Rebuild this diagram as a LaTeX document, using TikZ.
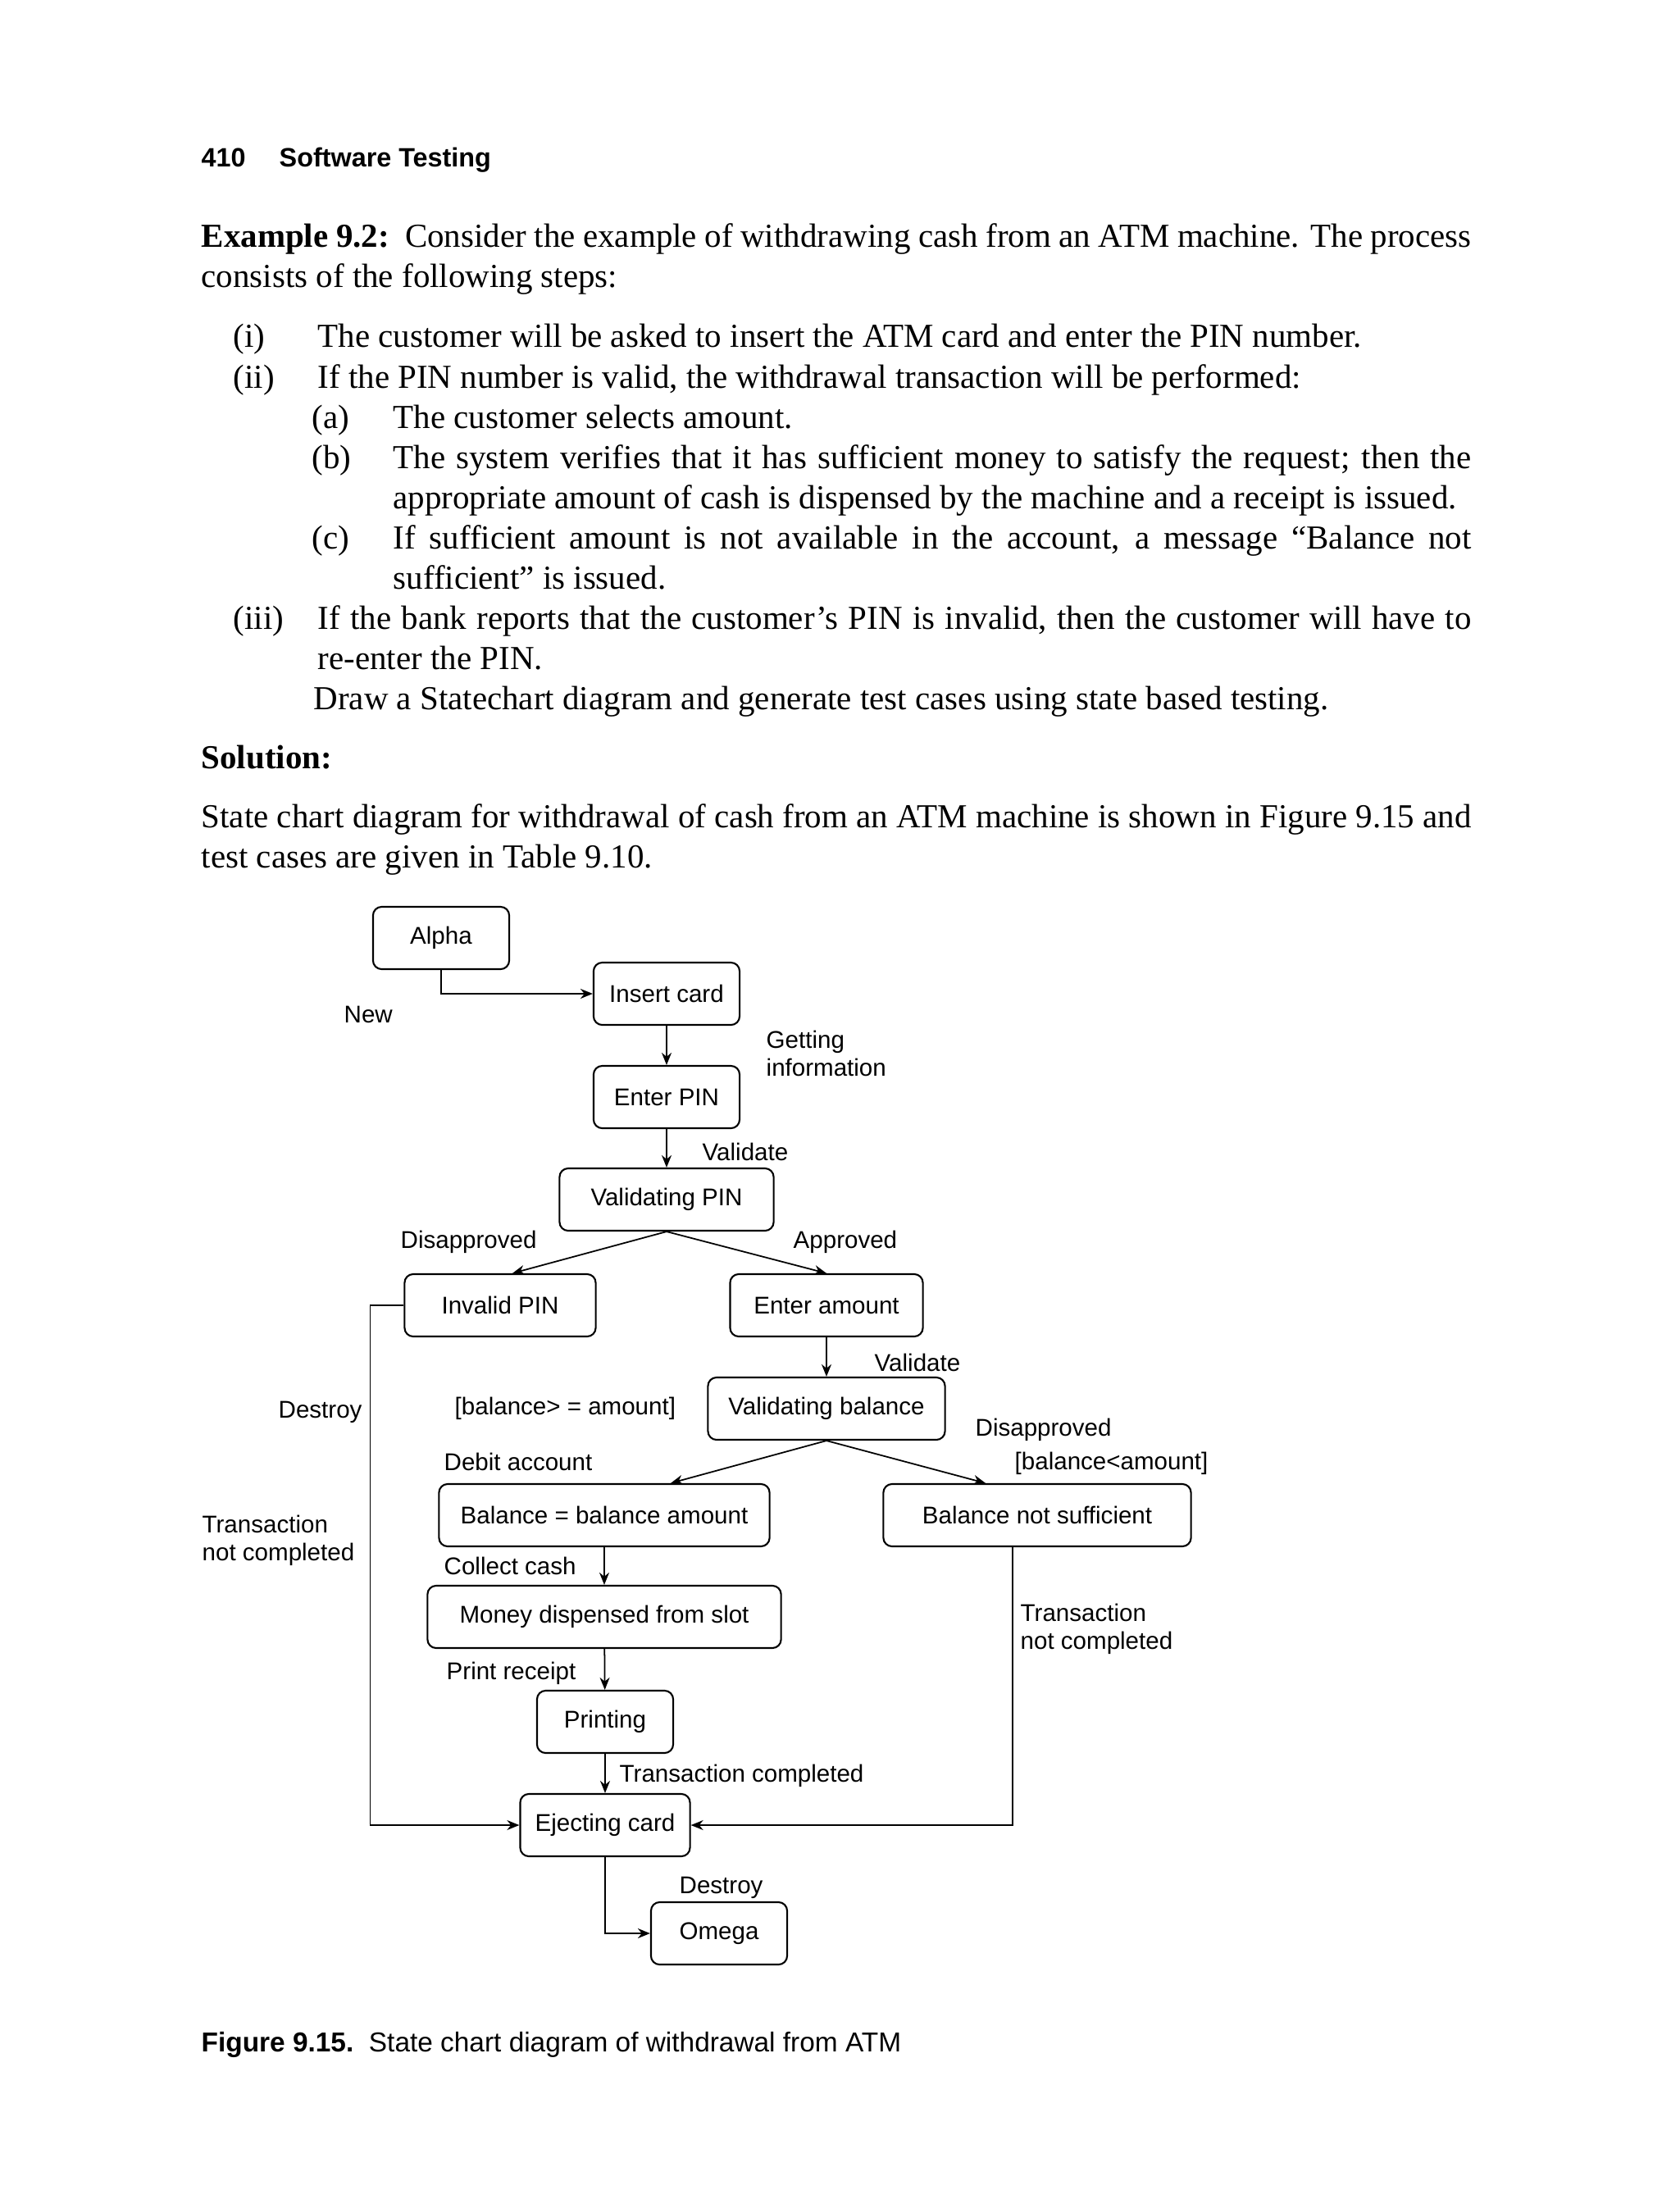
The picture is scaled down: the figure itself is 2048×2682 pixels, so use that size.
\documentclass[tikz,border=0pt]{standalone}
\usepackage{fontspec}
\setmainfont{Liberation Serif}
\setsansfont{Liberation Sans}
\usetikzlibrary{arrows.meta,calc}
\tikzset{
  every node/.style = {inner sep=0pt},
  estado/.style     = {draw=black, rounded corners=3pt, line width=0.6pt,
                       minimum height=7.6mm, inner sep=2pt,
                       font=\sffamily\fontsize{8.4}{9.7}\selectfont},
  flecha/.style     = {-{Stealth[length=1.5mm,width=1.2mm]}, line width=0.5pt},
  rot/.style        = {anchor=west, align=left,
                       font=\sffamily\fontsize{8.4}{9.7}\selectfont},
  cuerpo/.style     = {anchor=base west, font=\fontsize{11.65}{14}\selectfont},
  cabecera/.style   = {anchor=base west, font=\sffamily\bfseries\fontsize{9.2}{11}\selectfont},
  pie/.style        = {anchor=base west, font=\sffamily\fontsize{9.5}{11}\selectfont},
}

\begin{document}
\begin{tikzpicture}[x=0.01cm, y=-0.01cm]
\fill[white] (0,0) rectangle (2048,2682);
\useasboundingbox (0,0) rectangle (2048,2682);

% =============================================================================
% Cabecera y enunciado
% =============================================================================
\node[cabecera] (pag) at (245,204) {410};
\node[cabecera] (libro) at (340,204) {Software Testing};

\node[cuerpo] (ej1) at (245,302) {\hbox to 15.48cm{\textbf{Example 9.2:}\ \ Consider the example of withdrawing cash from an ATM machine. The process}};
\node[cuerpo] (ej2) at (245,351) {consists of the following steps:};

\node[cuerpo] (ni) at (284,424) {(i)};
\node[cuerpo] (ti) at (387,424) {The customer will be asked to insert the ATM card and enter the PIN number.};
\node[cuerpo] (nii) at (284,473) {(ii)};
\node[cuerpo] (tii) at (387,473) {If the PIN number is valid, the withdrawal transaction will be performed:};
\node[cuerpo] (na) at (380,522) {(a)};
\node[cuerpo] (ta) at (479,522) {The customer selects amount.};
\node[cuerpo] (nb) at (380,571) {(b)};
\node[cuerpo] (tb1) at (479,571) {\hbox to 13.14cm{The system verifies that it has sufficient money to satisfy the request; then the}};
\node[cuerpo] (tb2) at (479,620) {appropriate amount of cash is dispensed by the machine and a receipt is issued.};
\node[cuerpo] (nc) at (380,669) {(c)};
\node[cuerpo] (tc1) at (479,669) {\hbox to 13.14cm{If sufficient amount is not available in the account, a message “Balance not}};
\node[cuerpo] (tc2) at (479,718) {sufficient” is issued.};
\node[cuerpo] (niii) at (284,767) {(iii)};
\node[cuerpo] (tiii1) at (387,767) {\hbox to 14.06cm{If the bank reports that the customer’s PIN is invalid, then the customer will have to}};
\node[cuerpo] (tiii2) at (387,816) {re-enter the PIN.};
\node[cuerpo] (dib) at (382,865) {Draw a Statechart diagram and generate test cases using state based testing.};

\node[cuerpo,font=\bfseries\fontsize{11.65}{14}\selectfont] (sol) at (245,937) {Solution:};
\node[cuerpo] (sol1) at (245,1009) {\hbox to 15.48cm{State chart diagram for withdrawal of cash from an ATM machine is shown in Figure 9.15 and}};
\node[cuerpo] (sol2) at (245,1058) {test cases are given in Table 9.10.};

% =============================================================================
% Estados
% =============================================================================
\node[estado, minimum width=1.66cm] (alpha)    at (538,1144) {Alpha};
\node[estado, minimum width=1.78cm] (insert)   at (813,1212) {Insert card};
\node[estado, minimum width=1.78cm] (enterpin) at (813,1338) {Enter PIN};
\node[estado, minimum width=2.61cm] (valpin)   at (813,1463) {Validating PIN};
\node[estado, minimum width=2.33cm] (invalid)  at (610,1592) {Invalid PIN};
\node[estado, minimum width=2.35cm] (amount)   at (1008,1592) {Enter amount};
\node[estado, minimum width=2.89cm] (valbal)   at (1008,1718) {Validating balance};
\node[estado, minimum width=4.03cm] (baleq)    at (737,1848) {Balance = balance amount};
\node[estado, minimum width=3.75cm] (balnot)   at (1265,1848) {Balance not sufficient};
\node[estado, minimum width=4.31cm] (money)    at (737,1972) {Money dispensed from slot};
\node[estado, minimum width=1.66cm] (printing) at (738,2100) {Printing};
\node[estado, minimum width=2.07cm] (eject)    at (738,2226) {Ejecting card};
\node[estado, minimum width=1.66cm] (omega)    at (877,2358) {Omega};

% =============================================================================
% Transiciones
% =============================================================================
\draw[flecha] (alpha.south) |- (insert.west);
\draw[flecha] (insert) -- (enterpin);
\draw[flecha] (enterpin) -- (valpin);
\draw[flecha] (valpin.south) -- ($(invalid.north)+(15,0)$);
\draw[flecha] (valpin.south) -- (amount.north);
\draw[flecha] (amount) -- (valbal);
\draw[flecha] (valbal.south) -- ($(baleq.north)+(81,0)$);
\draw[flecha] (valbal.south) -- ($(balnot.north)+(-63,0)$);
\draw[flecha] (baleq) -- (money);
\draw[flecha] (money) -- (printing);
\draw[flecha] (printing) -- (eject);
\draw[flecha] (invalid.west) -- ++(-41,0) |- (eject.west);
\draw[flecha] ($(balnot.south)+(-30,0)$) |- (eject.east);
\draw[flecha] (eject.south) |- (omega.west);

% rotulos de las transiciones
\node[rot] (lnew)   at (419,1237) {New};
\node[rot] (lget)   at (934,1285) {Getting\\information};
\node[rot] (lval1)  at (856,1405) {Validate};
\node[rot] (ldis1)  at (488,1515) {Disapproved};
\node[rot] (lapr)   at (967,1515) {Approved};
\node[rot] (lval2)  at (1066,1662) {Validate};
\node[rot] (ldes1)  at (339,1722) {Destroy};
\node[rot] (lge)    at (554,1718) {[balance> = amount]};
\node[rot] (ldis2)  at (1189,1744) {Disapproved};
\node[rot] (llt)    at (1237,1785) {[balance<amount]};
\node[rot] (ldeb)   at (541,1783) {Debit account};
\node[rot] (lnot1)  at (246,1879) {Transaction\\not completed};
\node[rot] (lcash)  at (541,1910) {Collect cash};
\node[rot] (lnot2)  at (1244,1987) {Transaction\\not completed};
\node[rot] (lprint) at (544,2041) {Print receipt};
\node[rot] (lcomp)  at (755,2166) {Transaction completed};
\node[rot] (ldes2)  at (828,2302) {Destroy};

% =============================================================================
% Pie de figura
% =============================================================================
\node[pie] (fig) at (245,2502) {\textbf{Figure 9.15.}\ \ State chart diagram of withdrawal from ATM};

\end{tikzpicture}
\end{document}
